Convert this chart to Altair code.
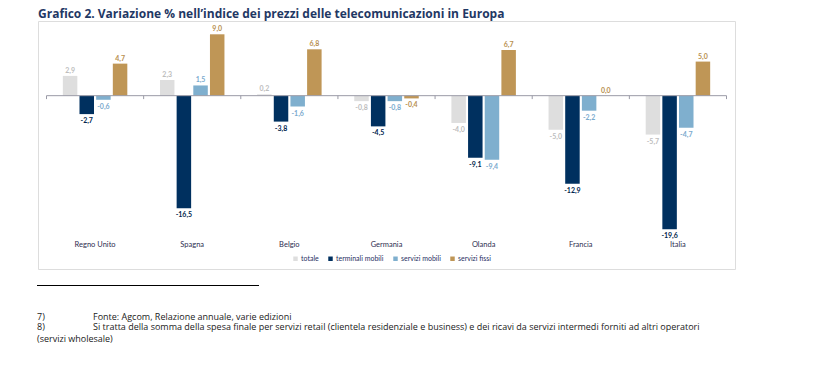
import altair as alt
import pandas as pd

countries = ["Regno Unito", "Spagna", "Belgio", "Germania", "Olanda", "Francia", "Italia"]
series = ["totale", "terminali mobili", "servizi mobili", "servizi fissi"]
totale = [2.9, 2.3, 0.2, -0.8, -4.0, -5.0, -5.7]
terminali_mobili = [-2.7, -16.5, -3.8, -4.5, -9.1, -12.9, -19.6]
servizi_mobili = [-0.6, 1.5, -1.6, -0.8, -9.4, -2.2, -4.7]
servizi_fissi = [4.7, 9.0, 6.8, -0.4, 6.7, 0.0, 5.0]

bar_colors = ["#dedede", "#00305f", "#7fafce", "#bf9656"]
label_colors = ["#bdbdbd", "#00254d", "#7aaace", "#b8904f"]

title_text = "Grafico 2. Variazione % nell\u2019indice dei prezzi delle telecomunicazioni in Europa"
note7_num = "7)"
note7_text = "Fonte: Agcom, Relazione annuale,  varie edizioni"
note8_num = "8)"
note8_text = ("Si tratta della somma della spesa finale per servizi retail (clientela residenziale e "
              "business) e dei ricavi da servizi intermedi forniti ad altri operatori")
note8_cont = "(servizi wholesale)"

rows = []
for s, vals, lc in zip(series, [totale, terminali_mobili, servizi_mobili, servizi_fissi], label_colors):
    for c, v in zip(countries, vals):
        rows.append({"country": c, "series": s, "value": v,
                     "label": f"{v:.1f}".replace(".", ","), "lc": lc})
df = pd.DataFrame(rows)

W, H = 697, 248
OUTER = 0.0875
step = W / (len(countries) + 2 * OUTER)
x0 = OUTER * step
x1 = W - OUTER * step
FONT = "Lato"
FONT2 = "Open Sans"

xscale = alt.Scale(domain=countries, paddingInner=0, paddingOuter=OUTER)
yscale = alt.Scale(domain=[-25.41, 10.95], nice=False, zero=False)
xoff = alt.XOffset("series:N", scale=alt.Scale(domain=series, paddingInner=0.13, paddingOuter=0.98))

base = alt.Chart(df)

bars = base.mark_bar().encode(
    x=alt.X("country:N", scale=xscale, sort=countries,
            axis=alt.Axis(title=None, orient="bottom", offset=-31, domain=False, ticks=False,
                          labelPadding=2, labelAngle=0, labelFontSize=7.5, labelFont=FONT,
                          labelColor="#2e2e50", labelFontWeight="normal")),
    xOffset=xoff,
    y=alt.Y("value:Q", scale=yscale, axis=None),
    color=alt.Color("series:N", scale=alt.Scale(domain=series, range=bar_colors),
                    legend=alt.Legend(orient="none", legendX=254, legendY=234, direction="horizontal",
                                      title=None, symbolType="square", symbolSize=20,
                                      symbolStrokeWidth=0, labelFontSize=7, labelFont=FONT,
                                      labelColor="#1f2f5f", columnPadding=8, labelOffset=2)),
)

pos_labels = base.transform_filter("datum.value >= 0").mark_text(
    baseline="bottom", dy=-2, fontSize=7, font=FONT, fontWeight="bold").encode(
    x=alt.X("country:N", sort=countries), xOffset=xoff, y="value:Q", text="label:N",
    color=alt.Color("lc:N", scale=None))

neg_labels = base.transform_filter("datum.value < 0").mark_text(
    baseline="top", dy=3, fontSize=7, font=FONT, fontWeight="bold").encode(
    x=alt.X("country:N", sort=countries), xOffset=xoff, y="value:Q", text="label:N",
    color=alt.Color("lc:N", scale=None))

zero_line = alt.Chart(pd.DataFrame({"z": [0]})).mark_rule(color="#9a9aa6", strokeWidth=1).encode(
    y=alt.datum(0), x=alt.value(x0), x2=alt.value(x1))

tick_df = pd.DataFrame({"country": countries})
ticks = alt.Chart(tick_df).mark_rule(color="#9a9aa6", strokeWidth=1).encode(
    x=alt.X("country:N", sort=countries, bandPosition=0), y=alt.datum(0), y2=alt.datum(-0.5))
end_tick = alt.Chart(pd.DataFrame({"z": [0]})).mark_rule(color="#9a9aa6", strokeWidth=1).encode(
    x=alt.value(x1), y=alt.datum(0), y2=alt.datum(-0.5))

one = pd.DataFrame({"z": [0]})
foot_rule = alt.Chart(one).mark_rule(color="#000000", strokeWidth=1).encode(
    x=alt.value(-1), x2=alt.value(221), y=alt.value(264.5))

def note(text, x, y):
    return alt.Chart(one).mark_text(align="left", baseline="middle", fontSize=9, font=FONT2,
                                    color="#1a1a1a").encode(
        x=alt.value(x), y=alt.value(y), text=alt.value(text))

notes = [note(note7_num, -1, 295.5), note(note7_text, 55, 295.5),
         note(note8_num, -1, 306), note(note8_text, 55, 306),
         note(note8_cont, -1, 318)]

chart = alt.layer(bars, zero_line, ticks, end_tick, pos_labels, neg_labels, foot_rule, *notes).resolve_scale(
    color="independent").properties(
    width=W, height=H,
    title=alt.Title(title_text, anchor="start", frame="group", fontSize=12, font=FONT2,
                    fontWeight="bold", color="#1f3864", offset=0),
    autosize=alt.AutoSizeParams(type="none"),
    padding={"left": 30, "top": 13, "right": 70, "bottom": 92},
).configure_view(stroke="#8a8e9c", strokeWidth=1.5).configure(background="white")

chart.save("out.html", embed_options={"renderer": "svg", "actions": False})
